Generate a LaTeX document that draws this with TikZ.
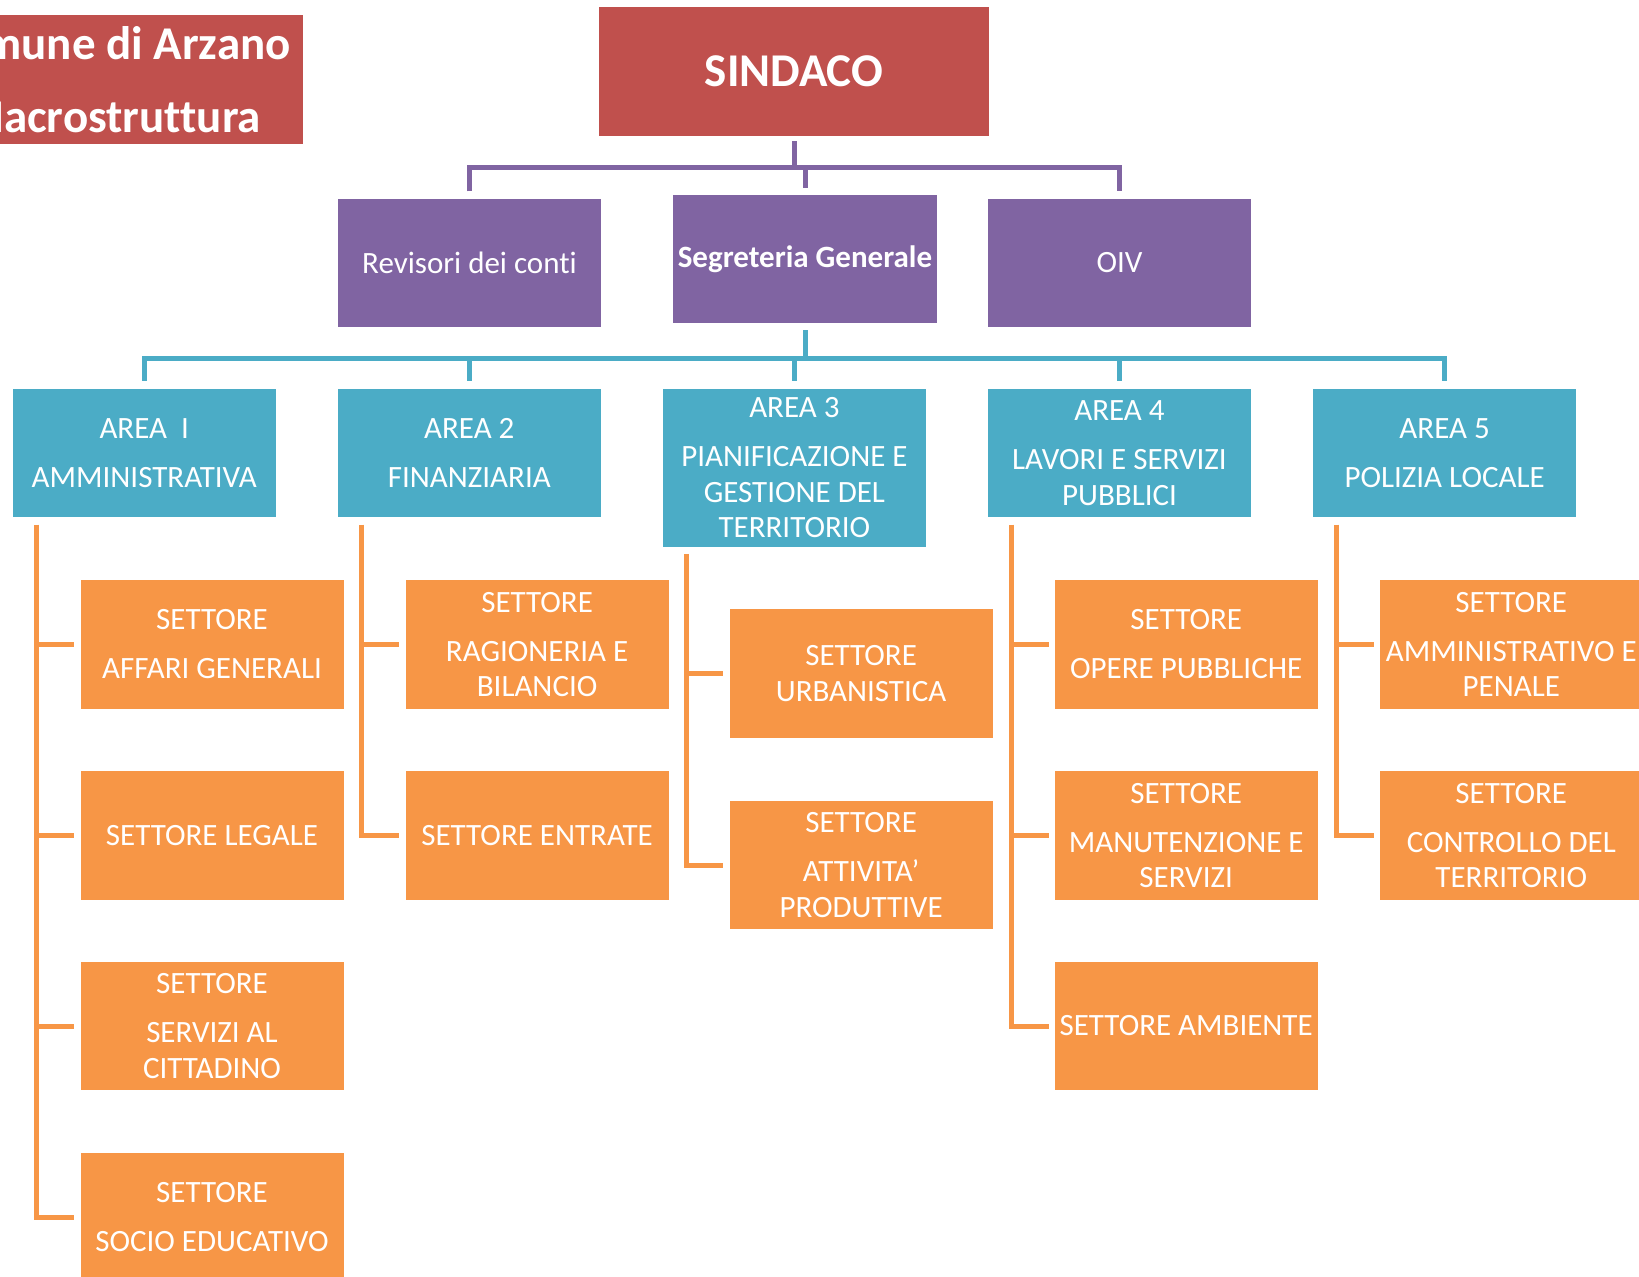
\documentclass[tikz,border=0pt]{standalone}
\usepackage{fontspec}
\setmainfont{Carlito}[Ligatures={NoCommon,NoRare,NoContextual}]
\usepackage{tikz}
\usetikzlibrary{calc}
\usepackage{xcolor}

\definecolor{sindred}{HTML}{C0504D}
\definecolor{staffpurple}{HTML}{8064A2}
\definecolor{areateal}{HTML}{4BACC6}
\definecolor{settorange}{HTML}{F79646}

\tikzset{
  box/.style={rectangle, inner sep=0pt, text=white, align=center,
    font=\fontsize{31}{35.5}\selectfont},
  sindbox/.style={box, fill=sindred, minimum width=390pt, minimum height=129pt},
  staffbox/.style={box, fill=staffpurple, minimum width=263.4pt, minimum height=128.4pt},
  areabox/.style={box, fill=areateal, minimum width=263.4pt, minimum height=128.4pt},
  settbox/.style={box, fill=settorange, minimum width=263pt, minimum height=128.6pt},
  pline/.style={draw=staffpurple, line width=5pt},
  tline/.style={draw=areateal, line width=5pt},
  oline/.style={draw=settorange, line width=5pt},
}
\newcommand{\pgap}{\\[13.5pt]}

\begin{document}
\begin{tikzpicture}[x=1pt, y=-1pt]

      \useasboundingbox (0,0) rectangle (1639,1277);
      \clip (0,0) rectangle (1639,1277);

      % title and mayor
      \node[box, fill=sindred, minimum width=382pt, minimum height=129pt,
        font=\fontsize{47}{57}\selectfont\bfseries] (ttl) at (112,79.5)
        {Comune di Arzano\\[16pt]Macrostruttura};
      \node[sindbox, font=\fontsize{47}{56}\selectfont\bfseries] (sind) at (794,71.5) {SINDACO};

      % staff
      \node[staffbox] (rev) at (469.5,262.8) {Revisori dei conti};
      \node[staffbox, minimum width=264pt, font=\fontsize{31}{35.5}\selectfont\bfseries] (seg) at (805,259) {Segreteria Generale};
      \node[staffbox] (oiv) at (1119.5,262.8) {OIV};

      \coordinate (pbus) at (0,167);
      \draw[pline] ([yshift=-5pt]sind.south) -- (sind.south |- pbus);
      \draw[pline] ([yshift=7pt]rev.north) |- (oiv.north |- pbus) -- ([yshift=7pt]oiv.north);
      \draw[pline] ([yshift=7pt]seg.north) -- (seg.north |- pbus);

      % areas
      \node[areabox] (a1) at (144.2,453.2) {AREA~~I\pgap AMMINISTRATIVA};
      \node[areabox] (a2) at (469.3,453.2) {AREA 2\pgap FINANZIARIA};
      \node[areabox, minimum height=157.7pt] (a3) at (794.4,467.9) {AREA 3\pgap PIANIFICAZIONE E\\GESTIONE DEL\\TERRITORIO};
      \node[areabox] (a4) at (1119.5,453.2) {AREA 4\pgap LAVORI E SERVIZI\\PUBBLICI};
      \node[areabox] (a5) at (1444.6,453.2) {AREA 5\pgap POLIZIA LOCALE};

      \coordinate (tbus) at (0,358);
      \draw[tline] ([yshift=-7pt]seg.south) -- (seg.south |- tbus);
      \draw[tline] ([yshift=8pt]a1.north) |- (a5.north |- tbus) -- ([yshift=8pt]a5.north);
      \foreach \a in {a2,a3,a4}
        \draw[tline] ([yshift=8pt]\a.north) -- (\a.north |- tbus);

      % settori
      \node[settbox] (s11) at (212,644.4) {SETTORE\pgap AFFARI GENERALI};
      \node[settbox] (s12) at (212,835.7) {SETTORE LEGALE};
      \node[settbox] (s13) at (212,1026) {SETTORE\pgap SERVIZI AL\\CITTADINO};
      \node[settbox] (s14) at (212,1217.3) {SETTORE\pgap SOCIO EDUCATIVO};

      \node[settbox] (s21) at (537.1,644.4) {SETTORE\pgap RAGIONERIA E\\BILANCIO};
      \node[settbox] (s22) at (537.1,835.7) {SETTORE ENTRATE};

      \node[settbox] (s31) at (861.1,673.7) {SETTORE\\URBANISTICA};
      \node[settbox] (s32) at (861.1,865) {SETTORE\pgap ATTIVITA’\\PRODUTTIVE};

      \node[settbox] (s41) at (1186.2,644.4) {SETTORE\pgap OPERE PUBBLICHE};
      \node[settbox] (s42) at (1186.2,835.7) {SETTORE\pgap MANUTENZIONE E\\SERVIZI};
      \node[settbox] (s43) at (1186.2,1026) {SETTORE AMBIENTE};

      \node[settbox] (s51) at (1511.3,644.4) {SETTORE\pgap AMMINISTRATIVO E\\PENALE};
      \node[settbox] (s52) at (1511.3,835.7) {SETTORE\pgap CONTROLLO DEL\\TERRITORIO};

      \foreach \a/\last/\others in {a1/s14/{s11,s12,s13}, a2/s22/{s21}, a3/s32/{s31},
                                    a4/s43/{s41,s42}, a5/s52/{s51}} {
        \coordinate (v) at ([xshift=24pt, yshift=-7pt]\a.south west);
        \draw[oline] (v) |- ([xshift=-6pt]\last.west);
        \foreach \s in \others
          \draw[oline] (v |- \s.west) -- ([xshift=-6pt]\s.west);
      }

    \end{tikzpicture}
\end{document}
